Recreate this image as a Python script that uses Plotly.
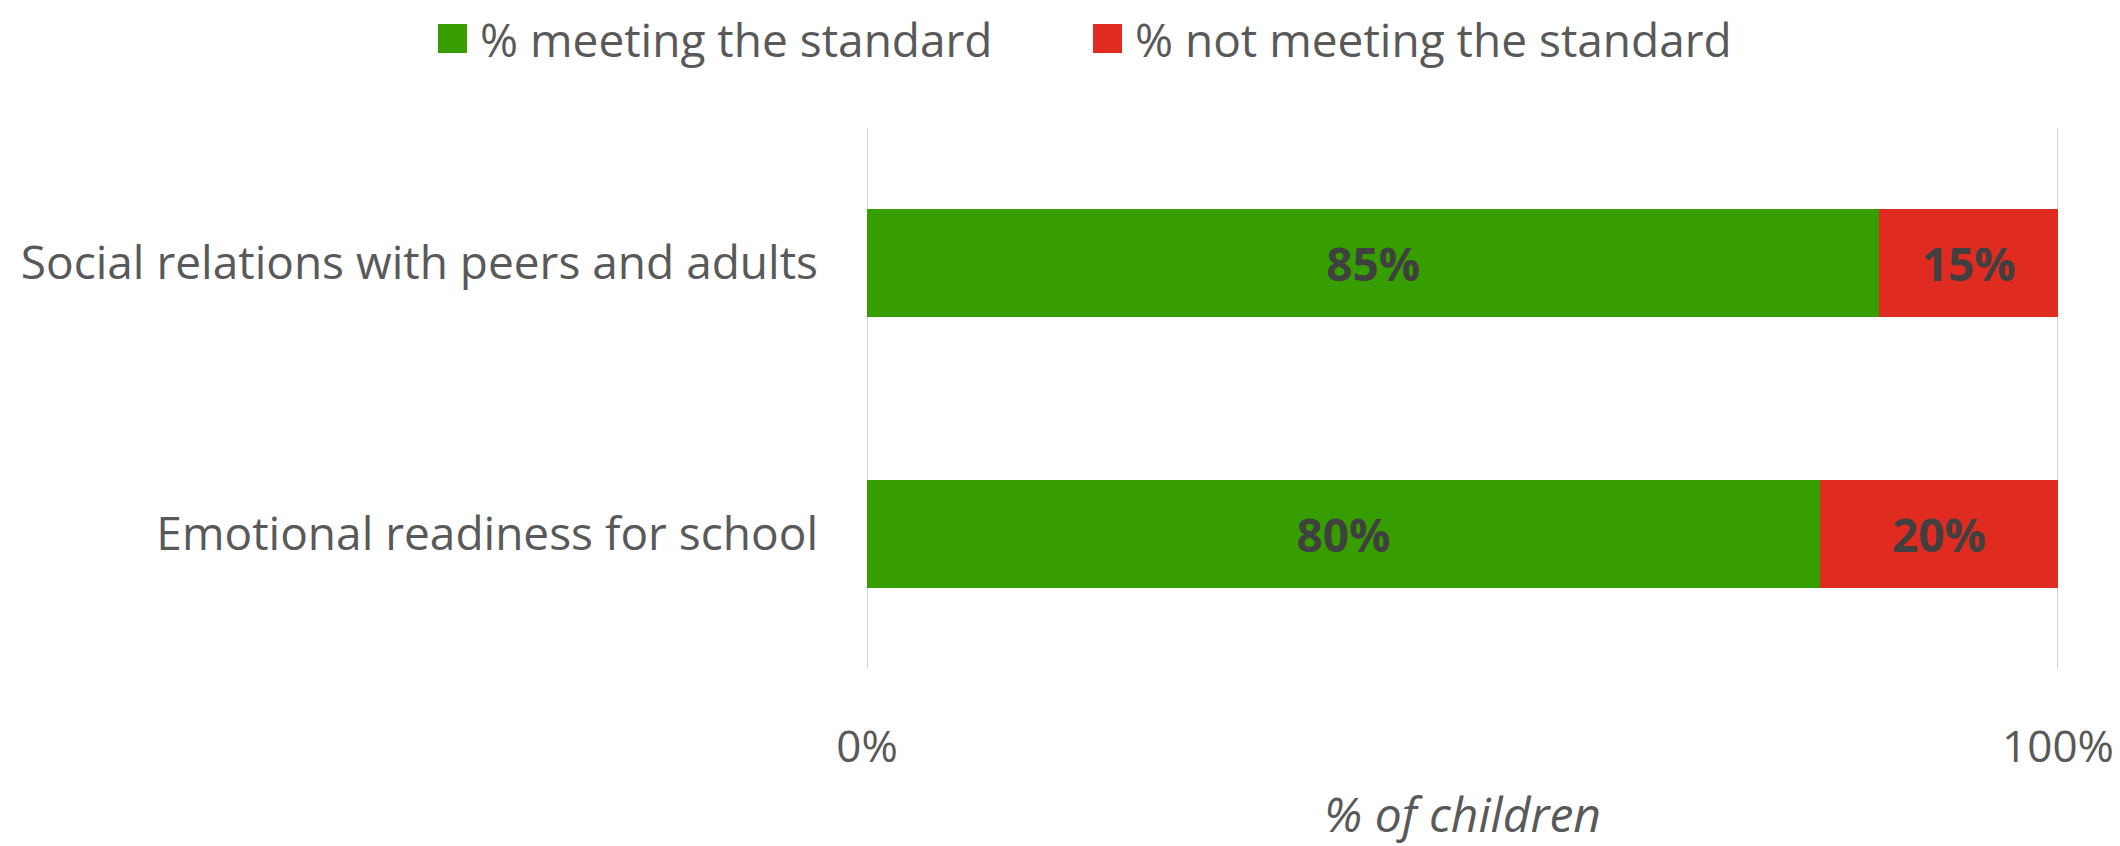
import plotly.graph_objects as go

categories = ["Emotional readiness for school", "Social relations with peers and adults"]
meeting = [80, 85]
not_meeting = [20, 15]
series_names = ["% meeting the standard", "% not meeting the standard"]
tick_values = [0, 100]
tick_labels = ["0%", "100%"]

GREEN = "#379E00"
RED = "#E02B20"
TEXT = "#595959"
LABEL = "#404040"
FONT = "Open Sans"

W, H = 2120, 846
ML, MR, MT, MB = 867, 62, 128, 177
PW, PH = W - ML - MR, H - MT - MB


def px_x(px):
    return (px - ML) / PW


def px_y(py):
    return (H - MB - py) / PH


fig = go.Figure()
for name, vals, col in [(series_names[0], meeting, GREEN), (series_names[1], not_meeting, RED)]:
    fig.add_trace(go.Bar(
        y=categories, x=vals, name=name, orientation="h",
        marker=dict(color=col, line=dict(width=0)),
        text=[f"{v}%" for v in vals], textposition="inside",
        insidetextanchor="middle",
        textfont=dict(family=FONT, size=46, color=LABEL, weight="bold"),
        hoverinfo="skip", showlegend=False,
    ))

# vertical gridlines at the axis ticks
for v in tick_values:
    fig.add_vline(x=v, line=dict(color="#D4D4D4", width=2), layer="below")

# legend drawn as swatches + labels above the plot
legend_items = [(series_names[0], GREEN, 438), (series_names[1], RED, 1093)]
for name, col, left in legend_items:
    fig.add_shape(type="rect", xref="paper", yref="paper",
                  x0=px_x(left), x1=px_x(left + 29), y0=px_y(53), y1=px_y(24),
                  fillcolor=col, line=dict(width=0))
    fig.add_annotation(text=name, xref="paper", yref="paper",
                       x=px_x(left + 40), y=px_y(39), xanchor="left", yanchor="middle",
                       showarrow=False, font=dict(family=FONT, size=46, color=TEXT))

fig.update_layout(
    width=W, height=H,
    barmode="stack", bargap=0.6,
    paper_bgcolor="white", plot_bgcolor="white",
    margin=dict(l=ML, r=MR, t=MT, b=MB, autoexpand=False),
    font=dict(family=FONT, size=46, color=TEXT),
    showlegend=False,
    xaxis=dict(
        range=[0, 100], tickvals=tick_values, ticktext=tick_labels,
        showgrid=False, zeroline=False, showline=False, ticks="",
        tickfont=dict(family=FONT, size=44, color=TEXT),
        ticklabelstandoff=48,
        title=dict(text="<i>% of children</i>", standoff=46,
                   font=dict(family=FONT, size=48, color=TEXT)),
    ),
    yaxis=dict(
        showgrid=False, zeroline=False, showline=False, ticks="",
        tickfont=dict(family=FONT, size=46, color=TEXT),
        ticklabelstandoff=48,
    ),
)

fig.write_html("out.html")
